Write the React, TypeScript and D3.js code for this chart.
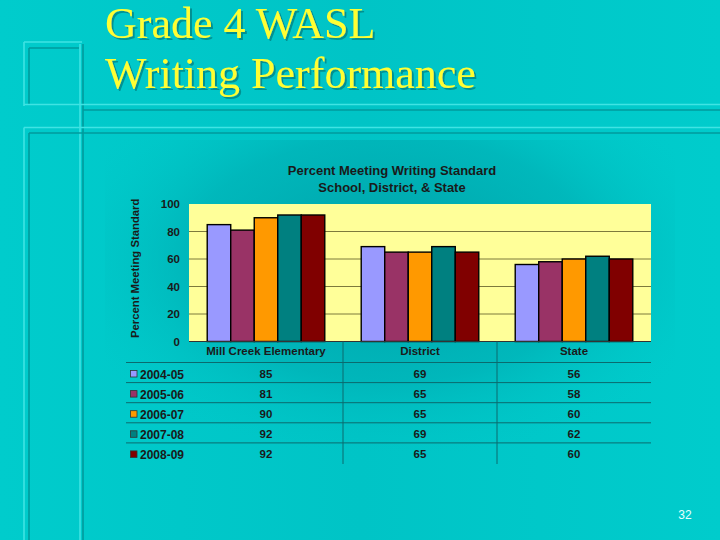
import React from "react";
import * as d3 from "d3";

const categories = ["Mill Creek Elementary", "District", "State"];
const seriesNames = ["2004-05", "2005-06", "2006-07", "2007-08", "2008-09"];
const values0405 = [85, 69, 56];
const values0506 = [81, 65, 58];
const values0607 = [90, 65, 60];
const values0708 = [92, 69, 62];
const values0809 = [92, 65, 60];
const seriesValues = [values0405, values0506, values0607, values0708, values0809];
const seriesColors = ["#9999FF", "#993366", "#FF9900", "#008080", "#800000"];
const yTicks = [0, 20, 40, 60, 80, 100];

const W = 720;
const H = 540;
const plotLeft = 189;
const plotRight = 651;
const plotTop = 204;
const plotBottom = 341.5;

export default function App() {
  const x = d3.scaleBand<string>().domain(categories).range([plotLeft, plotRight]).paddingInner(0).paddingOuter(0);
  const xi = d3.scaleBand<string>().domain(seriesNames).range([0, x.bandwidth()]).paddingInner(0).paddingOuter(0.775);
  const y = d3.scaleLinear().domain([0, 100]).range([plotBottom, plotTop]);

  const font = "Arial, 'Liberation Sans', sans-serif";
  const light = "#3fe3e3";
  const dark = "#009a9c";
  const rowY0 = 374;
  const rowStep = 20.1;

  return (
    <svg width={W} height={H} style={{ position: "fixed", left: 0, top: 0 }} xmlns="http://www.w3.org/2000/svg">
      <defs>
        <radialGradient id="chartShade" cx="0.5" cy="0.35" r="0.6">
          <stop offset="0" stopColor="#009aa2" stopOpacity="0.85" />
          <stop offset="0.6" stopColor="#00a8ae" stopOpacity="0.5" />
          <stop offset="1" stopColor="#00c8c8" stopOpacity="0" />
        </radialGradient>
        <linearGradient id="bg" x1="0" y1="0" x2="1" y2="0">
          <stop offset="0" stopColor="#00cccc" />
          <stop offset="0.5" stopColor="#00c4c6" />
          <stop offset="1" stopColor="#00cccc" />
        </linearGradient>
        <clipPath id="ylabClip">
          <rect x={120} y={196} width={30} height={160} />
        </clipPath>
        <filter id="tshadow" x="-5%" y="-5%" width="110%" height="120%">
          <feDropShadow dx="2" dy="2" stdDeviation="0.6" floodColor="#007a7a" floodOpacity="0.7" />
        </filter>
      </defs>
      <rect x={0} y={0} width={W} height={H} fill="url(#bg)" />
      <rect x={105} y={140} width={570} height={340} fill="url(#chartShade)" />

      {/* decorative frames */}
      <g fill="none" strokeWidth={1.6}>
        <line x1={24} y1={42} x2={82} y2={42} stroke={light} />
        <line x1={24} y1={42} x2={24} y2={106} stroke={light} />
        <line x1={29} y1={48} x2={79} y2={48} stroke={dark} />
        <line x1={29} y1={48} x2={29} y2={104} stroke={dark} />
        <line x1={80} y1={44} x2={80} y2={540} stroke={light} />
        <line x1={83} y1={44} x2={83} y2={540} stroke={dark} />
        <line x1={24} y1={104.5} x2={W} y2={104.5} stroke={light} />
        <line x1={83} y1={110} x2={W} y2={110} stroke={dark} />
        <line x1={24} y1={127.5} x2={W} y2={127.5} stroke={light} />
        <line x1={29} y1={133} x2={W} y2={133} stroke={dark} />
        <line x1={24} y1={127.5} x2={24} y2={540} stroke={light} />
        <line x1={29} y1={133} x2={29} y2={540} stroke={dark} />
      </g>

      {/* slide title */}
      <g fontFamily="'Liberation Serif', 'Times New Roman', serif" fontSize={44} fill="#ffff33" filter="url(#tshadow)">
        <text x={105} y={38}>Grade 4 WASL</text>
        <text x={105} y={88}>Writing Performance</text>
      </g>

      {/* chart title */}
      <g fontFamily={font} fontWeight="bold" fontSize={13} fill="#1a1a1a" textAnchor="middle">
        <text x={392} y={175}>Percent Meeting Writing Standard</text>
        <text x={392} y={192}>School, District, &amp; State</text>
      </g>

      {/* plot area */}
      <rect x={plotLeft} y={plotTop} width={plotRight - plotLeft} height={plotBottom - plotTop} fill="#ffff99" />
      {yTicks.filter((t) => t > 0 && t < 100).map((t) => (
        <line key={t} x1={plotLeft} x2={plotRight} y1={y(t)} y2={y(t)} stroke="#7d7a3c" strokeWidth={1} />
      ))}
      {categories.map((c, ci) =>
        seriesNames.map((s, si) => (
          <rect
            key={c + s}
            x={(x(c) ?? 0) + (xi(s) ?? 0)}
            y={y(seriesValues[si][ci])}
            width={xi.bandwidth()}
            height={plotBottom - y(seriesValues[si][ci])}
            fill={seriesColors[si]}
            stroke="#000"
            strokeWidth={1.4}
          />
        ))
      )}
      <line x1={plotLeft} x2={plotRight} y1={plotBottom} y2={plotBottom} stroke="#333" strokeWidth={1} />

      {/* y ticks */}
      <g fontFamily={font} fontWeight="bold" fontSize={11.5} fill="#1a1a1a" textAnchor="end">
        {yTicks.map((t) => (
          <text key={t} x={180} y={y(t) + 4}>{t}</text>
        ))}
      </g>

      {/* y label */}
      <g clipPath="url(#ylabClip)">
        <text
          transform={`translate(139, 338) rotate(-90)`}
          fontFamily={font}
          fontWeight="bold"
          fontSize={11.3}
          fill="#1a1a1a"
        >
          Percent Meeting Standard
        </text>
      </g>

      {/* data table */}
      <g stroke="#0a6b6e" strokeWidth={1}>
        {seriesNames.map((s, i) => (
          <line key={s} x1={126} x2={plotRight} y1={rowY0 - 11.5 + i * rowStep} y2={rowY0 - 11.5 + i * rowStep} />
        ))}
        {categories.slice(1).map((c) => (
          <line key={c} x1={x(c)} x2={x(c)} y1={plotBottom} y2={464} />
        ))}
      </g>
      <g fontFamily={font} fontWeight="bold" fontSize={11.5} fill="#1a1a1a" textAnchor="middle">
        {categories.map((c) => (
          <text key={c} x={(x(c) ?? 0) + x.bandwidth() / 2} y={355}>{c}</text>
        ))}
        {seriesNames.map((s, si) =>
          categories.map((c, ci) => (
            <text key={s + c} x={(x(c) ?? 0) + x.bandwidth() / 2} y={rowY0 + 4 + si * rowStep}>
              {seriesValues[si][ci]}
            </text>
          ))
        )}
      </g>
      {seriesNames.map((s, i) => (
        <g key={s}>
          <rect x={130.5} y={rowY0 - 3.5 + i * rowStep} width={6.5} height={6.5} fill={seriesColors[i]} stroke="#333" strokeWidth={0.8} />
          <text x={140} y={rowY0 + 4.5 + i * rowStep} fontFamily={font} fontWeight="bold" fontSize={12} fill="#1a1a1a">
            {s}
          </text>
        </g>
      ))}

      {/* page number */}
      <text x={685} y={519} textAnchor="middle" fontFamily={font} fontSize={12} fill="#e6ffff">32</text>
    </svg>
  );
}
